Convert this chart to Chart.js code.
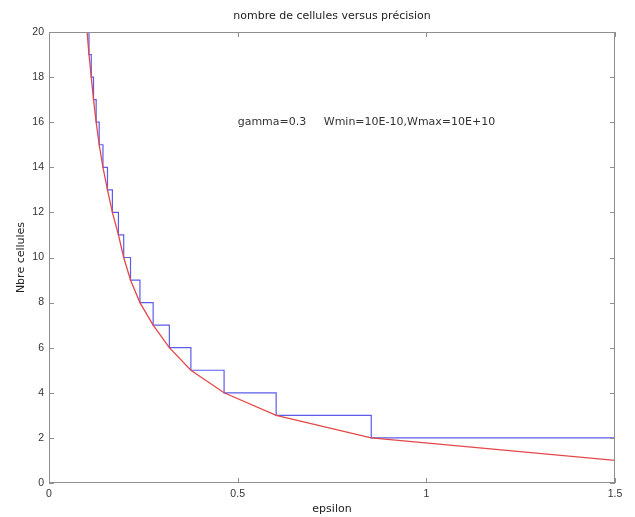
<!DOCTYPE html>
<html>
<head>
<meta charset="utf-8">
<script src="https://cdn.jsdelivr.net/npm/chart.js@4/dist/chart.umd.min.js"></script>
<style>
  html, body { margin: 0; padding: 0; background: #fff; }
  #wrap { width: 635px; height: 517px; }
</style>
</head>
<body>
<div id="wrap"><canvas id="c" width="635" height="517"></canvas></div>
<script>
// Number of cells needed for each precision epsilon
const cellCounts = [20, 19, 18, 17, 16, 15, 14, 13, 12, 11, 10, 9, 8, 7, 6, 5, 4, 3, 2, 1];
const epsilonValues = [0.101, 0.106, 0.112, 0.118, 0.125, 0.133, 0.143, 0.155, 0.168, 0.184,
                       0.198, 0.216, 0.241, 0.276, 0.319, 0.376, 0.464, 0.602, 0.854, 1.5];

const xTicks = [0, 0.5, 1, 1.5];
const yTicks = [0, 2, 4, 6, 8, 10, 12, 14, 16, 18, 20];

const titleText = 'nombre de cellules versus précision';
const xLabel = 'epsilon';
const yLabel = 'Nbre cellules';
const noteText = 'gamma=0.3     Wmin=10E-10,Wmax=10E+10';
const noteAt = { x: 0.5, y: 16 };

const TEXT_FONT = '"DejaVu Sans", Verdana, sans-serif';
const TICK_FONT = '"Liberation Sans", Arial, Helvetica, sans-serif';
const points = epsilonValues.map((e, i) => ({ x: e, y: cellCounts[i] }));

// Box around the axes with inward tick marks on all four sides, title and note text
const framePlugin = {
  id: 'frame',
  afterDatasetsDraw(chart) {
    const { ctx, chartArea: a, scales: { x, y } } = chart;
    ctx.save();
    ctx.strokeStyle = '#8f8f8f';
    ctx.lineWidth = 1;
    ctx.strokeRect(a.left + 0.5, a.top + 0.5, a.right - a.left - 1, a.bottom - a.top - 1);
    const len = 5;
    ctx.beginPath();
    xTicks.forEach(v => {
      const px = Math.round(x.getPixelForValue(v)) + 0.5;
      ctx.moveTo(px, a.bottom); ctx.lineTo(px, a.bottom - len);
      ctx.moveTo(px, a.top); ctx.lineTo(px, a.top + len);
    });
    yTicks.forEach(v => {
      const py = Math.round(y.getPixelForValue(v)) + 0.5;
      ctx.moveTo(a.left, py); ctx.lineTo(a.left + len, py);
      ctx.moveTo(a.right, py); ctx.lineTo(a.right - len, py);
    });
    ctx.stroke();

    ctx.fillStyle = '#333';
    ctx.font = '11px ' + TEXT_FONT;
    ctx.textAlign = 'left';
    ctx.textBaseline = 'middle';
    ctx.fillText(noteText, x.getPixelForValue(noteAt.x), y.getPixelForValue(noteAt.y));

    ctx.fillStyle = '#222';
    ctx.textAlign = 'center';
    ctx.fillText(titleText, (a.left + a.right) / 2, a.top - 15.5);
    ctx.restore();
  }
};

new Chart(document.getElementById('c'), {
  type: 'scatter',
  data: {
    datasets: [
      {
        label: 'courbe',
        data: points,
        showLine: true,
        borderColor: 'rgb(228, 72, 72)',
        borderWidth: 1.3,
        pointRadius: 0,
        tension: 0
      },
      {
        label: 'escalier',
        data: points,
        showLine: true,
        stepped: 'before',
        borderColor: 'rgb(92, 92, 236)',
        borderWidth: 1.2,
        pointRadius: 0
      }
    ]
  },
  options: {
    responsive: false,
    animation: false,
    devicePixelRatio: 1,
    layout: { padding: { left: 0, right: 20, top: 32, bottom: 0 } },
    plugins: {
      legend: { display: false },
      tooltip: { enabled: false },
      title: { display: false }
    },
    scales: {
      x: {
        type: 'linear',
        min: 0,
        max: 1.5,
        grid: { display: false, drawTicks: false },
        border: { display: false },
        afterBuildTicks: s => { s.ticks = xTicks.map(v => ({ value: v })); },
        afterFit: s => { s.height = 34; s.paddingLeft = 0; s.paddingRight = 0; },
        ticks: {
          padding: 5,
          color: '#333',
          font: { family: TICK_FONT, size: 10.5 },
          maxRotation: 0,
          callback: v => String(v)
        },
        title: {
          display: true,
          text: xLabel,
          color: '#222',
          font: { family: TEXT_FONT, size: 11 },
          padding: { top: 0, bottom: 1 }
        }
      },
      y: {
        type: 'linear',
        min: 0,
        max: 20,
        grid: { display: false, drawTicks: false },
        border: { display: false },
        afterBuildTicks: s => { s.ticks = yTicks.map(v => ({ value: v })); },
        afterFit: s => { s.width = 49; s.paddingTop = 0; s.paddingBottom = 0; },
        ticks: {
          padding: 5,
          color: '#333',
          font: { family: TICK_FONT, size: 10.5 },
          callback: v => String(v)
        },
        title: {
          display: true,
          text: yLabel,
          color: '#222',
          font: { family: TEXT_FONT, size: 11 },
          padding: { top: 15, bottom: 0 }
        }
      }
    }
  },
  plugins: [framePlugin]
});
</script>
</body>
</html>
